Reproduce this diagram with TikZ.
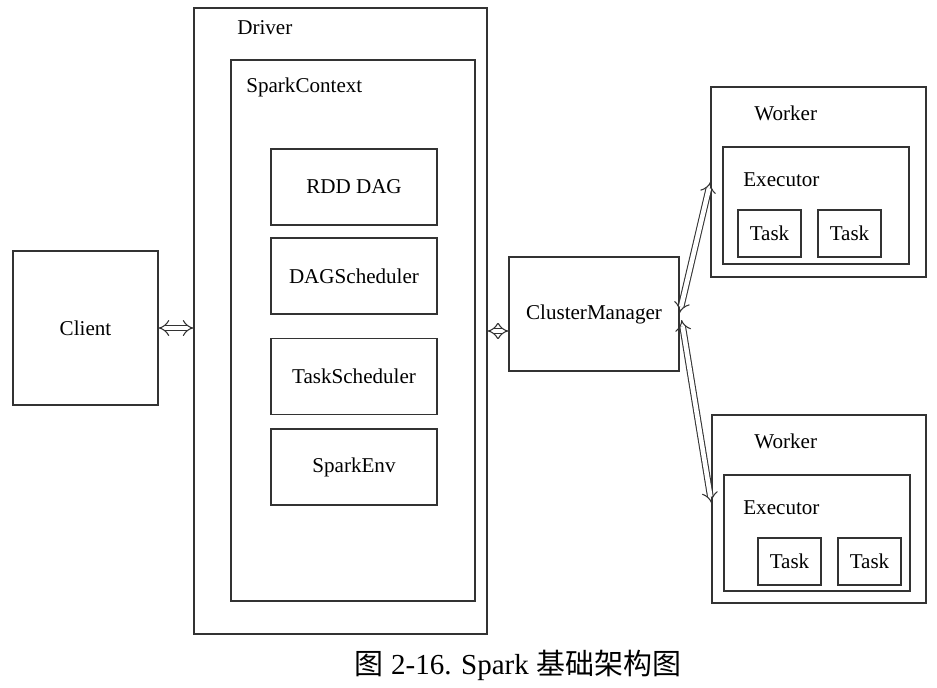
\documentclass[tikz,border=0pt]{standalone}
\usepackage{fontspec}
\setmainfont{Liberation Serif}
\newfontfamily\cjk{Noto Sans CJK SC}
\usetikzlibrary{arrows.meta}

\begin{document}
\begin{tikzpicture}[
  x=0.02cm, y=-0.02cm,
  box/.style={draw=black!80, line width=0.7pt, align=center,
              font=\fontsize{12}{14}\selectfont, inner sep=0pt},
  title/.style={anchor=west, font=\fontsize{12}{14}\selectfont, inner sep=0pt},
  link/.style={draw=black!80, double, double distance=2.6pt, line width=0.6pt,
               {Implies}-{Implies}}
]
  \useasboundingbox (0,0) rectangle (937,687);

  % client and driver
  \node[box, minimum width=2.9cm, minimum height=3.08cm]   (client) at (85.5,328) {Client};
  \node[box, minimum width=5.86cm, minimum height=12.52cm] (driver) at (340.5,321) {};
  \node[title] (driverlbl) at (237,28) {Driver};
  \node[box, minimum width=4.88cm, minimum height=10.82cm] (sc) at (353,330.5) {};
  \node[title] (sclbl) at (246,87) {SparkContext};

  \node[box, minimum width=3.32cm, minimum height=1.52cm] (rdd)   at (354,187)   {RDD DAG};
  \node[box, minimum width=3.32cm, minimum height=1.52cm] (dags)  at (354,276)   {DAGScheduler};
  \node[box, minimum width=3.32cm, minimum height=1.52cm] (tasks) at (354,376.5) {TaskScheduler};
  \node[box, minimum width=3.32cm, minimum height=1.52cm] (env)   at (354,467)   {SparkEnv};

  % cluster manager
  \node[box, minimum width=3.4cm, minimum height=2.28cm] (cm) at (594,314) {ClusterManager};

  % workers
  \node[box, minimum width=4.3cm, minimum height=3.8cm]   (worker1) at (818.5,182) {};
  \node[title] (w1lbl) at (754,113) {Worker};
  \node[box, minimum width=3.72cm, minimum height=2.34cm] (exec1) at (816,205.5) {};
  \node[title] (e1lbl) at (743,180) {Executor};
  \node[box, minimum width=1.26cm, minimum height=0.94cm] (t11) at (769.5,233.5) {Task};
  \node[box, minimum width=1.26cm, minimum height=0.94cm] (t12) at (849.5,233.5) {Task};

  \node[box, minimum width=4.28cm, minimum height=3.76cm] (worker2) at (819,509) {};
  \node[title] (w2lbl) at (754,441) {Worker};
  \node[box, minimum width=3.72cm, minimum height=2.32cm] (exec2) at (817,533) {};
  \node[title] (e2lbl) at (743,508) {Executor};
  \node[box, minimum width=1.26cm, minimum height=0.94cm] (t21) at (789.5,561.5) {Task};
  \node[box, minimum width=1.26cm, minimum height=0.94cm] (t22) at (869.5,561.5) {Task};

  % links
  \draw[link] (client.east) -- (client.east -| driver.west);
  \draw[link] ([yshift=-0.34cm]cm.west) -- ([yshift=-0.34cm]cm.west -| driver.east);
  \draw[link] ([yshift=0.02cm]cm.east) -- (worker1.west);
  \draw[link] ([xshift=0.04cm,yshift=-0.12cm]cm.east) -- ([yshift=0.12cm]worker2.west);

  \node[font=\fontsize{16.5}{18}\selectfont, inner sep=0pt] (caption) at (518,665)
    {{\cjk 图} 2-16. Spark {\cjk 基础架构图}};
\end{tikzpicture}
\end{document}
